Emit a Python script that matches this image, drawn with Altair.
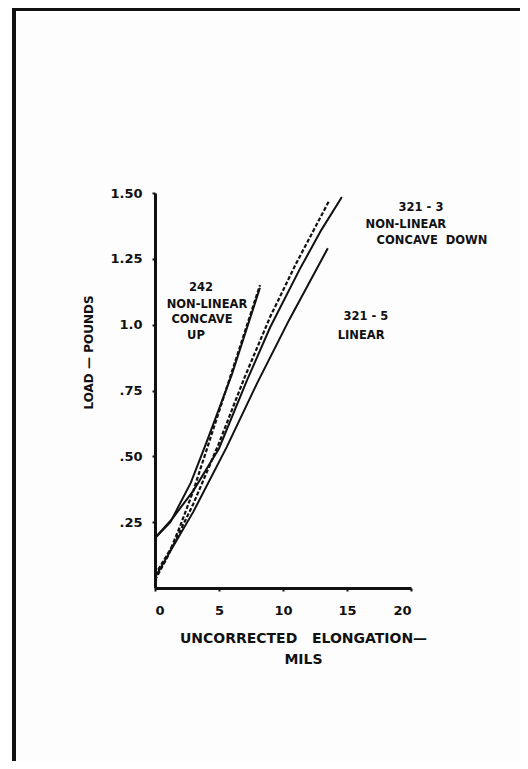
import altair as alt
import pandas as pd

# ---- data ----
x_242_solid = [0.0, 1.2, 2.8, 4.0, 6.0, 8.2]
y_242_solid = [0.19, 0.25, 0.40, 0.55, 0.81, 1.14]

x_242_dashed = [0.0, 1.0, 2.0, 3.0, 4.0, 6.0, 8.2]
y_242_dashed = [0.03, 0.12, 0.24, 0.37, 0.52, 0.82, 1.15]

x_3213_solid = [0.0, 1.3, 3.0, 5.0, 7.2, 9.0, 11.3, 13.0, 14.6]
y_3213_solid = [0.19, 0.26, 0.37, 0.53, 0.79, 0.99, 1.21, 1.36, 1.485]

x_3213_dashed = [0.0, 1.5, 3.0, 5.0, 7.0, 9.0, 11.0, 13.6]
y_3213_dashed = [0.05, 0.17, 0.32, 0.55, 0.80, 1.03, 1.23, 1.47]

x_3215_solid = [0.0, 3.0, 5.6, 8.0, 10.5, 13.5]
y_3215_solid = [0.04, 0.29, 0.535, 0.78, 1.02, 1.29]

x_ticks = [0, 5, 10, 15, 20]
y_ticks = [0.25, 0.50, 0.75, 1.00, 1.25, 1.50]
y_tick_labels = [".25", ".50", ".75", "1.0", "1.25", "1.50"]

NB = "\u00a0"
note_text = ["242", "NON-LINEAR", "CONCAVE", "UP",
             "321 - 3", "NON-LINEAR", "CONCAVE" + NB + NB + "DOWN",
             "321 - 5", "LINEAR"]
note_x = [3.59, 4.06, 3.67, 3.2, 20.78, 19.6, 21.64, 16.48, 16.1]
note_y = [1.139, 1.075, 1.018, 0.957, 1.443, 1.379, 1.318, 1.029, 0.957]

x_title = ["UNCORRECTED" + NB + NB + NB + "ELONGATION—", "MILS"]
y_title = "LOAD — POUNDS"


def series(name, xs, ys):
    return pd.DataFrame({"series": name, "x": xs, "y": ys, "i": range(len(xs))})


solid = pd.concat([
    series("242 solid", x_242_solid, y_242_solid),
    series("321-3 solid", x_3213_solid, y_3213_solid),
    series("321-5 solid", x_3215_solid, y_3215_solid),
])
dashed = pd.concat([
    series("242 dashed", x_242_dashed, y_242_dashed),
    series("321-3 dashed", x_3213_dashed, y_3213_dashed),
])
notes = pd.DataFrame({"t": note_text, "x": note_x, "y": note_y})

label_expr = " : ".join(
    f"datum.value == {v} ? '{l}'" for v, l in zip(y_ticks, y_tick_labels)
) + " : ''"

FONT = "DejaVu Sans"

xs = alt.X("x:Q", scale=alt.Scale(domain=[0, 20], nice=False, zero=True),
           axis=alt.Axis(values=x_ticks, title=x_title,
                         titleX=148, titleY=43, titleBaseline="top",
                         titleLineHeight=21, titleFontSize=14,
                         labelPadding=13, labelFontSize=13))
ys = alt.Y("y:Q", scale=alt.Scale(domain=[0, 1.5], nice=False),
           axis=alt.Axis(values=y_ticks, labelExpr=label_expr,
                         title=y_title, titleX=-67, titleY=159,
                         titleBaseline="middle", titleFontSize=12,
                         labelPadding=10, labelFontSize=13))

solid_lines = alt.Chart(solid).mark_line(color="#111", strokeWidth=2).encode(
    x=xs, y=ys, detail="series:N", order="i:Q")
dashed_lines = alt.Chart(dashed).mark_line(
    color="#111", strokeWidth=2.2, strokeDash=[4, 2]).encode(
    x="x:Q", y="y:Q", detail="series:N", order="i:Q")

text = alt.Chart(notes).mark_text(font=FONT, fontWeight="bold", fontSize=11.5,
                                  color="#111").encode(
    x="x:Q", y="y:Q", text="t:N")

frame_left = alt.Chart(notes).mark_rule(color="#111", strokeWidth=4).encode(
    x=alt.value(-141), y=alt.value(-185), y2=alt.value(576))
frame_top = alt.Chart(notes).mark_rule(color="#111", strokeWidth=3).encode(
    x=alt.value(-143), x2=alt.value(365), y=alt.value(-184))

chart = alt.layer(solid_lines, dashed_lines, text, frame_left, frame_top).properties(
    width=256, height=395,
    autosize=alt.AutoSizeParams(type="none"),
    padding={"left": 147, "top": 185, "right": 109, "bottom": 173},
    background="#fdfdfd",
).configure_view(stroke=None).configure_axis(
    grid=False, domainColor="#111", domainWidth=3, tickColor="#111",
    tickWidth=2, tickSize=3, labelFont=FONT, labelFontWeight="bold",
    labelColor="#111", titleFont=FONT, titleFontWeight="bold", titleColor="#111",
)

chart.save("out.html", embed_options={"renderer": "svg", "actions": False})
